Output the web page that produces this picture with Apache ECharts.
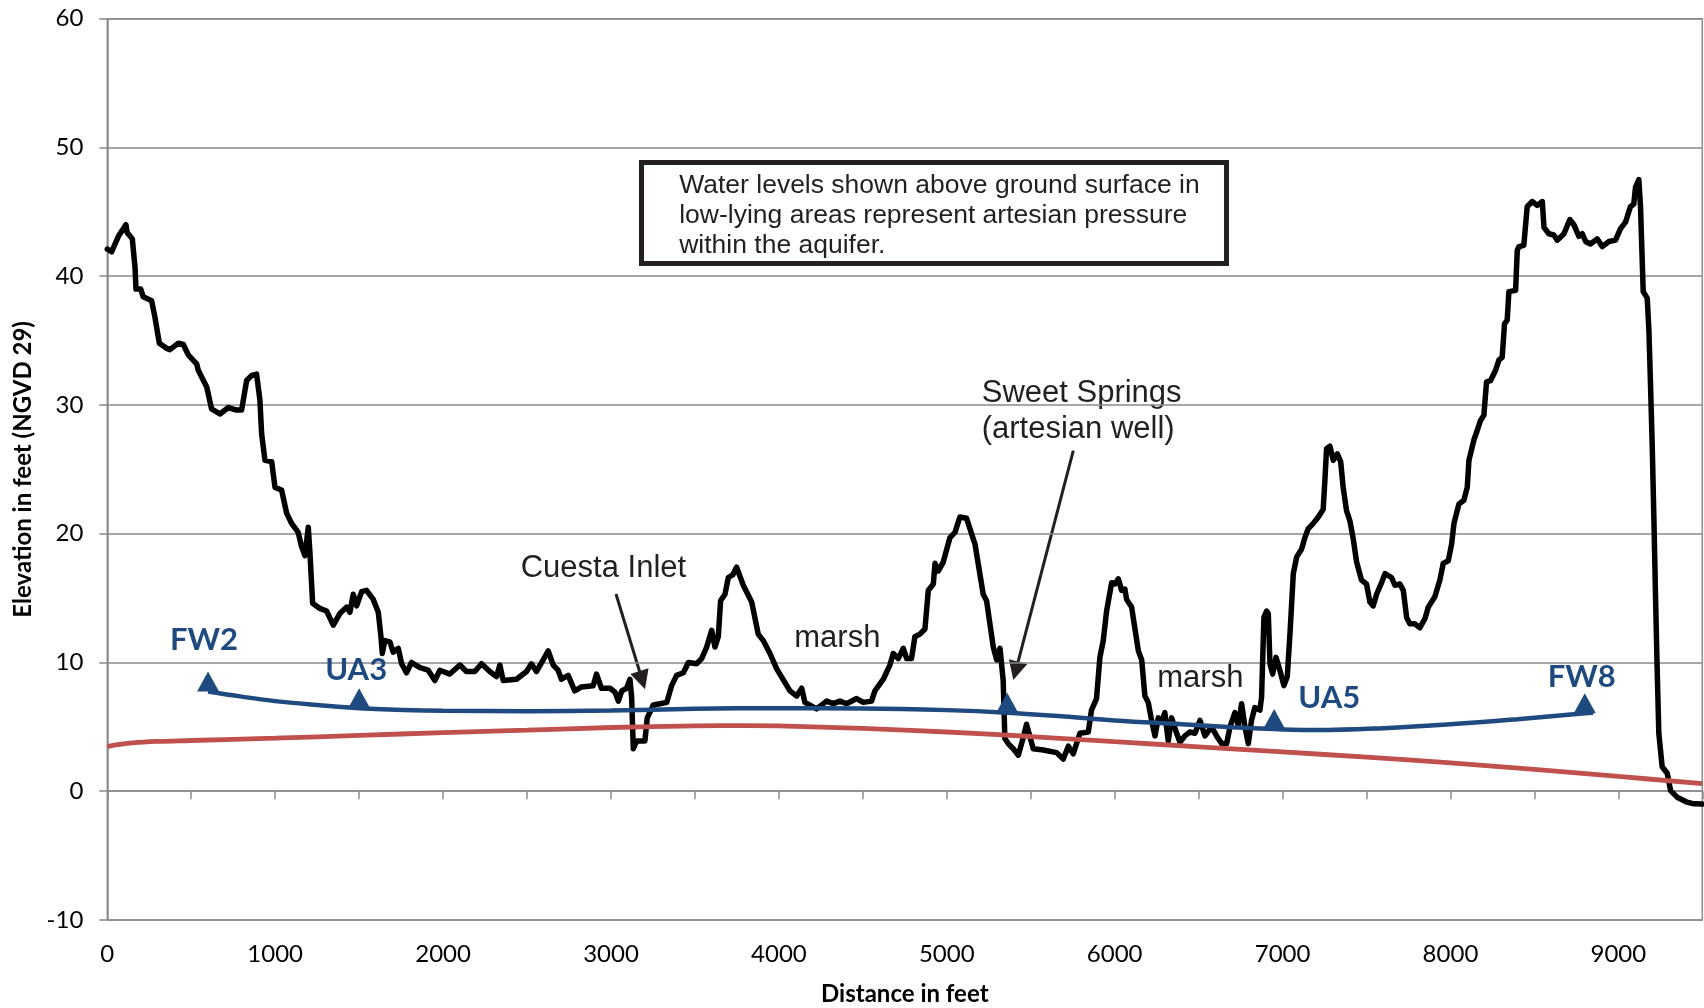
<!DOCTYPE html>
<html>
<head>
<meta charset="utf-8">
<script src="https://cdn.jsdelivr.net/npm/echarts@6/dist/echarts.min.js"></script>
<style>
html,body{margin:0;padding:0;background:#fff;}
#chart{width:1704px;height:1008px;}
</style>
</head>
<body>
<div id="chart"></div>
<script>
// Ground surface profile (distance in feet, elevation in feet NGVD 29)
const terrainDist = [0,26,66,111,118,149,165,171,199,214,264,284,310,353,373,423,453,482,532,542,592,621,671,721,770,800,830,860,889,909,919,939,979,999,1038,1068,1098,1137,1157,1177,1197,1207,1223,1266,1306,1346,1385,1425,1445,1465,1485,1515,1544,1584,1614,1630,1638,1653,1683,1703,1733,1753,1782,1812,1862,1911,1951,1981,2040,2100,2139,2189,2229,2278,2318,2338,2358,2437,2497,2526,2556,2596,2626,2656,2685,2705,2745,2784,2824,2894,2914,2943,2994,3024,3044,3064,3093,3113,3123,3133,3153,3202,3216,3252,3292,3332,3361,3391,3431,3461,3510,3540,3570,3600,3619,3639,3653,3679,3699,3725,3748,3788,3838,3877,3907,3947,3987,4066,4106,4136,4155,4225,4284,4324,4364,4403,4463,4503,4552,4572,4622,4661,4681,4711,4741,4761,4790,4810,4840,4870,4890,4920,4930,4949,4979,5019,5049,5078,5118,5168,5217,5237,5277,5297,5317,5327,5336,5346,5366,5396,5426,5456,5475,5515,5575,5654,5694,5724,5753,5793,5843,5862,5892,5912,5932,5952,5982,6002,6022,6041,6061,6071,6101,6121,6141,6161,6180,6200,6220,6240,6260,6280,6299,6319,6339,6369,6389,6418,6448,6478,6508,6538,6577,6607,6637,6667,6687,6716,6736,6756,6776,6796,6815,6835,6865,6875,6889,6905,6915,6925,6941,6961,6984,7008,7028,7044,7064,7084,7113,7133,7153,7183,7213,7242,7252,7262,7282,7302,7326,7346,7361,7381,7401,7421,7441,7470,7500,7520,7540,7560,7590,7610,7649,7669,7699,7719,7739,7758,7788,7818,7848,7868,7907,7937,7957,7987,8007,8021,8050,8080,8100,8110,8140,8159,8179,8199,8215,8239,8269,8289,8308,8322,8338,8348,8388,8398,8408,8437,8457,8487,8517,8547,8557,8586,8616,8636,8676,8711,8735,8765,8785,8805,8834,8874,8904,8944,8983,9013,9043,9072,9092,9102,9122,9132,9148,9172,9182,9192,9202,9212,9222,9231,9241,9261,9291,9311,9350,9410,9450,9500];
const terrainElev = [42.1,41.9,43.1,44.0,43.4,42.9,40.7,39.0,39.0,38.4,38.1,36.8,34.8,34.4,34.3,34.8,34.7,33.9,33.2,32.7,31.4,29.7,29.3,29.8,29.6,29.6,31.9,32.3,32.4,30.4,27.8,25.7,25.6,23.6,23.4,21.6,20.8,20.1,19.0,18.3,20.5,18.5,14.6,14.2,14.0,12.9,13.8,14.3,13.9,15.3,14.4,15.5,15.6,14.9,13.9,12.0,10.7,11.7,11.6,10.8,11.1,9.9,9.2,10.0,9.6,9.4,8.6,9.4,9.1,9.8,9.3,9.3,9.9,9.3,8.9,9.8,8.6,8.7,9.3,9.9,9.3,10.2,10.9,9.8,9.4,8.7,9.0,7.8,8.1,8.2,9.1,8.0,8.0,7.7,7.0,7.8,8.0,8.7,7.3,3.3,3.9,3.9,5.7,6.7,6.8,6.9,8.2,9.0,9.2,10.0,9.9,10.3,11.2,12.5,11.2,12.0,14.8,15.3,16.6,16.8,17.4,16.0,14.7,12.2,11.7,10.7,9.5,7.8,7.4,8.0,6.9,6.4,7.0,6.8,7.0,6.8,7.2,6.9,7.0,7.8,8.7,9.8,10.7,10.3,11.1,10.3,10.3,12.0,12.2,12.6,15.6,16.1,17.7,17.1,17.8,19.7,20.1,21.3,21.2,19.2,15.3,14.8,11.2,10.2,11.1,11.2,8.6,4.1,3.7,3.3,2.8,4.2,5.2,3.3,3.2,3.0,2.5,3.5,2.9,4.5,4.6,6.3,7.2,10.4,11.7,14.0,16.2,16.1,16.5,15.6,15.7,14.9,14.3,12.6,10.9,10.2,7.4,6.9,5.5,4.3,5.7,5.4,6.1,3.9,5.7,4.5,3.8,4.3,4.6,4.5,5.5,4.3,5.0,4.3,3.7,3.7,5.0,6.1,5.1,6.8,5.0,3.7,5.5,6.5,6.3,7.3,13.5,14.0,13.8,9.9,9.1,10.4,9.4,8.2,8.9,12.2,16.9,18.2,18.8,19.7,20.4,20.8,21.3,21.9,24.1,26.6,26.8,25.7,26.2,25.6,23.6,21.8,21.0,19.6,17.8,16.4,16.1,14.7,14.4,15.3,16.2,16.9,16.6,16.0,16.1,15.6,13.5,13.0,13.0,12.7,13.4,14.3,15.1,16.4,17.7,17.9,19.2,20.8,22.3,22.6,23.6,25.7,27.3,28.0,28.8,29.2,31.8,31.9,32.7,33.5,33.7,36.3,36.6,38.8,38.9,42.0,42.3,42.4,45.4,45.8,45.5,45.8,43.8,43.3,43.2,42.8,43.3,44.4,44.0,43.1,43.3,42.7,42.5,42.9,42.3,42.7,42.8,43.7,44.2,45.4,45.6,46.9,47.5,45.4,38.8,38.3,35.8,31.4,26.7,21.0,14.8,9.6,4.5,1.9,1.4,0.05,-0.46,-0.85,-0.98,-1.0];

// Water level surface (blue) through the wells
const waterDist = [600,800,1000,1250,1500,2000,2500,3000,3500,4000,4500,5000,5360,5700,6000,6400,6700,6950,7200,7600,8000,8400,8800,8850];
const waterElev = [7.75,7.35,7.0,6.7,6.45,6.25,6.22,6.27,6.4,6.45,6.43,6.3,6.1,5.8,5.5,5.2,4.97,4.83,4.75,4.9,5.2,5.6,6.06,6.1];

// Red line
const redDist = [0,50,150,300,500,1000,1500,2000,2500,3000,3500,3800,4000,4500,5000,5500,6000,6500,7000,7500,8000,8500,9000,9500];
const redElev = [3.47,3.6,3.76,3.87,3.94,4.12,4.34,4.55,4.74,4.95,5.07,5.1,5.07,4.88,4.6,4.25,3.85,3.45,3.05,2.65,2.2,1.7,1.15,0.6];

// Wells
const wellNames = ['FW2','UA3','','UA5','FW8'];
const wellDist = [600,1500,5360,6950,8800];
const wellElev = [7.75,6.45,6.1,4.83,6.06];
const wellLabelOffset = [[-4,-41],[-3,-28],[0,0],[55,-21],[-3,-26]];

const xTicks = [0,1000,2000,3000,4000,5000,6000,7000,8000,9000];

const zip = (a, b) => a.map((v, i) => [v, b[i]]);

const GRID = '#8a8a8a';
const BLUE = '#1f4a7f';
const INK = '#231f20';
const ANN = '"Liberation Sans", Arial, sans-serif';

function arrow(x1, y1, tx, ty, len, hw) {
  const dx = tx - x1, dy = ty - y1;
  const L = Math.sqrt(dx*dx + dy*dy);
  const ux = dx / L, uy = dy / L;
  const bx = tx - ux*len, by = ty - uy*len;
  const px = -uy, py = ux;
  return [
    {type:'line', shape:{x1:x1, y1:y1, x2:bx+ux*2, y2:by+uy*2}, style:{stroke:INK, lineWidth:3}},
    {type:'polygon', shape:{points:[[tx,ty],[bx+px*hw,by+py*hw],[bx-px*hw,by-py*hw]]}, style:{fill:INK}}
  ];
}
function txt(x, y, s, size) {
  return {type:'text', x:x, y:y, style:{text:s, font: size + 'px ' + ANN, fill:INK, align:'left', verticalAlign:'middle', textAlign:'left', textVerticalAlign:'middle'}};
}

const chart = echarts.init(document.getElementById('chart'), null, {renderer:'canvas'});
chart.setOption({
  animation: false,
  backgroundColor: '#fff',
  grid: {left:107.3, right:1.7, top:18.7, bottom:88, show:true, borderColor:GRID, borderWidth:1.5,
         backgroundColor:'transparent', containLabel:false, outerBoundsMode:'none'},
  xAxis: {
    type:'value', min:0, max:9500, interval:500,
    axisLine:{show:true, lineStyle:{color:GRID, width:1.5}},
    axisTick:{show:true, length:8, lineStyle:{color:GRID, width:1.5}},
    splitLine:{show:false},
    axisLabel:{margin:22, color:'#000', fontFamily:'Lato', fontSize:24,
      formatter: v => xTicks.indexOf(v) >= 0 ? String(v) : ''},
    name:'Distance in feet', nameLocation:'middle', nameGap:62,
    nameTextStyle:{fontFamily:'Lato', fontWeight:'bold', fontSize:24, color:'#000'}
  },
  yAxis: {
    type:'value', min:-10, max:60, interval:10,
    axisLine:{show:true, lineStyle:{color:GRID, width:1.5}},
    axisTick:{show:true, length:8, lineStyle:{color:GRID, width:1.5}},
    splitLine:{show:true, lineStyle:{color:GRID, width:1.5}},
    axisLabel:{margin:24, color:'#000', fontFamily:'Lato', fontSize:24},
    name:'Elevation in feet (NGVD 29)', nameLocation:'middle', nameGap:70, nameRotate:90,
    nameTextStyle:{fontFamily:'Lato', fontWeight:'bold', fontSize:24, color:'#000'}
  },
  series: [
    {type:'line', data: zip(terrainDist, terrainElev), showSymbol:false, symbol:'none', z:2,
     lineStyle:{color:'#000', width:5.5, join:'round', cap:'round'}},
    {type:'line', data: zip(redDist, redElev), showSymbol:false, symbol:'none', smooth:0.4, z:3,
     lineStyle:{color:'#c0504d', width:4.8}},
    {type:'line', data: zip(waterDist, waterElev), showSymbol:false, symbol:'none', smooth:0.4, z:4,
     lineStyle:{color:BLUE, width:4.5}},
    {type:'scatter', z:5, symbol:'triangle', symbolSize:[22,20], symbolOffset:[0,'-50%'],
     itemStyle:{color:BLUE, opacity:1},
     data: wellDist.map((d, i) => ({
       value:[d, wellElev[i]],
       label:{show: wellNames[i] !== '', formatter: wellNames[i], position:'inside',
         offset: wellLabelOffset[i], color:BLUE, fontFamily:'Lato', fontWeight:'bold', fontSize:31}
     }))}
  ],
  graphic: [].concat(
    [{type:'rect', shape:{x:641.5, y:162.5, width:585, height:101}, style:{fill:'#fff', stroke:INK, lineWidth:5}, z:10}],
    [txt(679.2, 185.5, 'Water levels shown above ground surface in', 26.5),
     txt(679.2, 215.5, 'low-lying areas represent artesian pressure', 26.5),
     txt(679.2, 245.5, 'within the aquifer.', 26.5)].map(e => Object.assign(e, {z:11})),
    [txt(520.7, 568.5, 'Cuesta Inlet', 31),
     txt(794.3, 638.5, 'marsh', 31),
     txt(1157.3, 678, 'marsh', 31),
     txt(981.7, 393.5, 'Sweet Springs', 31),
     txt(981.7, 429, '(artesian well)', 31)],
    arrow(616, 594, 645, 689.3, 19, 9.5),
    arrow(1073.3, 450.7, 1013.3, 680, 19, 9.5)
  )
});
</script>
</body>
</html>
